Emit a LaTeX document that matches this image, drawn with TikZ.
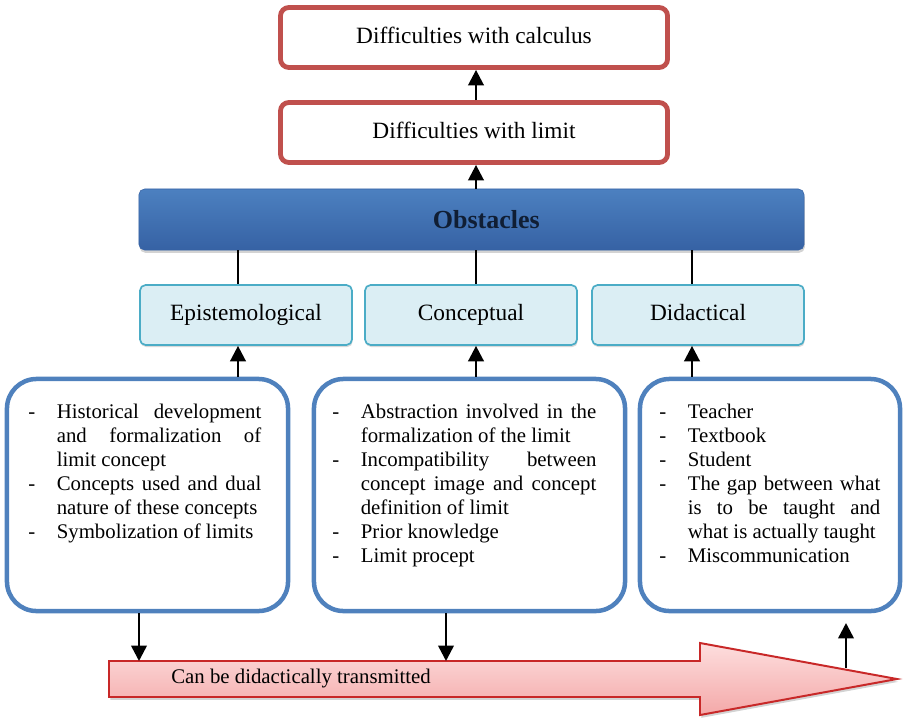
\documentclass[tikz,border=0pt]{standalone}
\usepackage{fontspec}
\setmainfont{Liberation Serif}
\usetikzlibrary{arrows.meta,shadows}

\definecolor{limitred}{RGB}{192,80,77}
\definecolor{obsTop}{RGB}{76,128,192}
\definecolor{obsBot}{RGB}{54,98,164}
\definecolor{obsText}{RGB}{16,30,52}
\definecolor{kindFill}{RGB}{219,238,244}
\definecolor{kindLine}{RGB}{75,172,198}
\definecolor{causeLine}{RGB}{79,129,189}
\definecolor{transLine}{RGB}{200,40,40}
\definecolor{transTop}{RGB}{253,222,222}
\definecolor{transBot}{RGB}{244,168,168}

\newcommand{\itemsetup}{\hyphenpenalty=10000\relax\tolerance=10000\relax\hbadness=10000\relax}
\newcommand{\ditem}{\par\noindent\hangindent=20.3pt\hangafter=1\makebox[20.3pt][l]{-}}

\begin{document}
\begin{tikzpicture}[x=0.025cm, y=-0.025cm,
    diff/.style={draw=limitred, line width=3.4pt, rounded corners=6pt, fill=white, minimum width=9.675cm, minimum height=1.5cm, text height=11.5pt, text depth=3.5pt, font=\fontsize{16.6}{20}\selectfont},
    obst/.style={draw=obsBot, top color=obsTop, bottom color=obsBot, rounded corners=4pt, minimum width=16.625cm, minimum height=1.525cm, text=obsText, font=\fontsize{18.5}{22}\selectfont\bfseries, drop shadow={opacity=0.35, shadow xshift=0.5pt, shadow yshift=-2pt}},
    kind/.style={draw=kindLine, line width=1.2pt, fill=kindFill, rounded corners=4pt, minimum width=5.3cm, minimum height=1.5cm, text height=11.5pt, text depth=3.5pt, font=\fontsize{16.6}{20}\selectfont, drop shadow={opacity=0.3, shadow xshift=0.5pt, shadow yshift=-1.5pt}},
    cause/.style={draw=causeLine, line width=3.2pt, rounded corners=21pt, minimum height=5.8cm},
    items/.style={inner sep=0pt, anchor=north west, align=justify, font=\fontsize{14.8}{17.1}\selectfont, execute at begin node=\itemsetup},
    trans/.style={draw=transLine, line width=1.4pt, top color=transTop, bottom color=transBot, drop shadow={opacity=0.35, shadow xshift=1pt, shadow yshift=-2pt}},
    link/.style={line width=1.8pt},
    uparr/.style={link, -{Triangle[width=11pt,length=11pt]}},
    downarr/.style={link, -{Triangle[width=11pt,length=11pt]}}
]
\useasboundingbox (0,0) rectangle (907,717);

% top of the chain
\node[diff] (calc) at (474,37.5) {Difficulties with calculus};
\node[diff] (lim) at (474,132.5) {Difficulties with limit};
\node[obst] (obs) at (471.5,219.5) {\hspace*{21pt}Obstacles};

% kinds of obstacles
\node[kind] (epi) at (246,315) {Epistemological};
\node[kind] (conc) at (471,315) {Conceptual};
\node[kind] (did) at (698,315) {Didactical};

% sources
\node[cause, minimum width=7.025cm] (bigL) at (147.5,495) {};
\node[cause, minimum width=7.775cm] (bigM) at (469.5,495) {};
\node[cause, minimum width=6.5cm] (bigR) at (770,495) {};

\node[items, text width=165.7pt] (txtL) at (28,394) {\ditem Historical development\linebreak and formalization of\linebreak limit concept \ditem Concepts used and dual\linebreak nature of these concepts \ditem Symbolization of limits};
\node[items, text width=187.8pt] (txtM) at (332,394) {\ditem Abstraction involved in the\linebreak formalization of the limit \ditem Incompatibility between\linebreak concept image and concept\linebreak definition of limit \ditem Prior knowledge \ditem Limit procept};
\node[items, text width=157.2pt] (txtR) at (659,394) {\ditem Teacher \ditem Textbook \ditem Student \ditem The gap between what\linebreak is to be taught and\linebreak what is actually taught \ditem Miscommunication};

% transmission arrow
\draw[trans] (109,661) -- (700,661) -- (700,643) -- (897,679) -- (700,715) -- (700,697) -- (109,697) -- cycle;
\node[anchor=base west, inner sep=0pt, font=\fontsize{14.8}{17}\selectfont] (transLbl) at (171,683) {Can be didactically transmitted};

\coordinate (cx1) at (238,0);
\coordinate (cx2) at (476,0);
\coordinate (cx3) at (692,0);
\coordinate (dropL) at (139,661);
\coordinate (dropM) at (446,661);
\coordinate (rise) at (846,668);
\coordinate (riseEnd) at (846,623);

% connectors
\draw[uparr] (lim.north -| cx2) -- (calc.south -| cx2);
\draw[uparr] (obs.north -| cx2) -- (lim.south -| cx2);
\draw[link] (obs.south -| cx1) -- (epi.north -| cx1);
\draw[link] (obs.south -| cx2) -- (conc.north -| cx2);
\draw[link] (obs.south -| cx3) -- (did.north -| cx3);
\draw[uparr] (bigL.north -| cx1) -- (epi.south -| cx1);
\draw[uparr] (bigM.north -| cx2) -- (conc.south -| cx2);
\draw[uparr] (bigR.north -| cx3) -- (did.south -| cx3);
\draw[downarr] (bigL.south -| dropL) -- (dropL);
\draw[downarr] (bigM.south -| dropM) -- (dropM);
\draw[uparr] (rise) -- (riseEnd);
\end{tikzpicture}
\end{document}
